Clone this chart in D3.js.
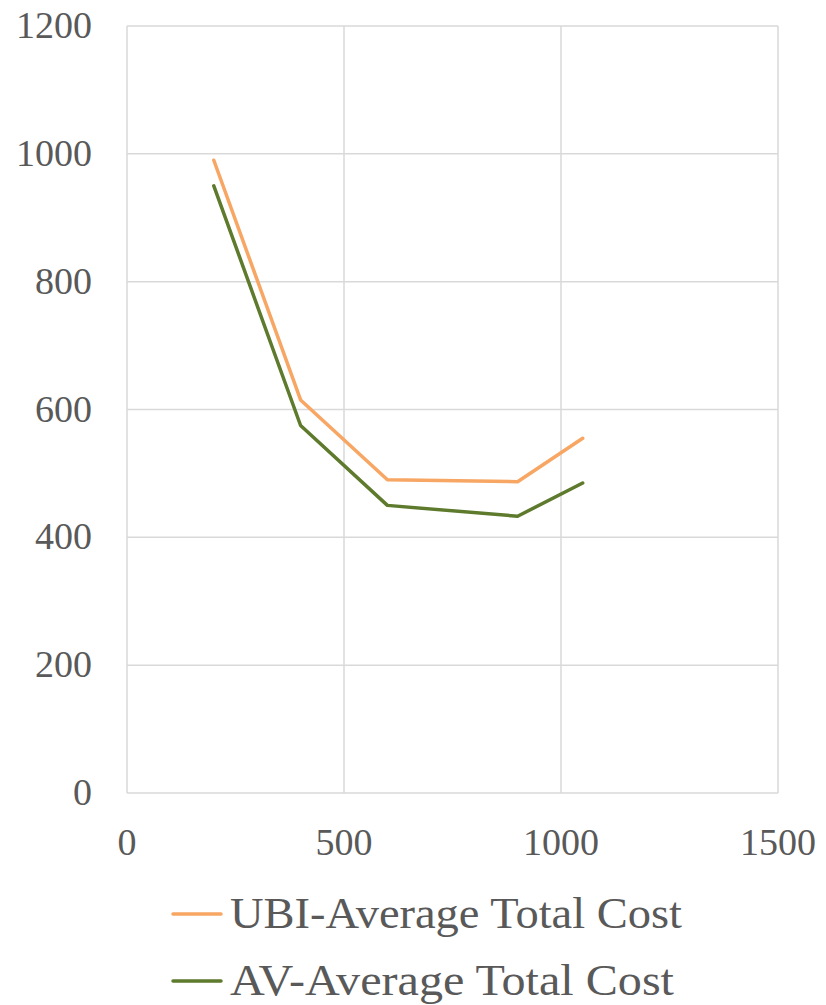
<!DOCTYPE html>
<html><head><meta charset="utf-8">
<script src="https://cdn.jsdelivr.net/npm/d3@7"></script>
<style>body{margin:0;background:#fff}</style>
</head><body>
<svg id="c" width="826" height="1005"></svg>
<script>
const xValues = [200, 400, 600, 900, 1050];
const ubiValues = [990, 615, 490, 487, 555];
const avValues = [950, 575, 450, 433, 485];
const xTicks = [0, 500, 1000, 1500];
const yTicks = [0, 200, 400, 600, 800, 1000, 1200];
const seriesNames = ["UBI-Average Total Cost", "AV-Average Total Cost"];
const seriesColors = ["#F7A663", "#5E7A2C"];

const svg = d3.select("#c");
const font = "'Liberation Serif', 'Times New Roman', serif";
const x = d3.scaleLinear().domain([0, 1500]).range([127, 778]);
const y = d3.scaleLinear().domain([0, 1200]).range([793, 26]);
const grid = "#d9d9d9", txt = "#595959";

// gridlines
svg.append("g").selectAll("line").data(yTicks.slice(1)).join("line")
  .attr("x1", x(0)).attr("x2", x(1500)).attr("y1", d => y(d)).attr("y2", d => y(d))
  .attr("stroke", grid).attr("stroke-width", 1.5);
svg.append("g").selectAll("line").data(xTicks.slice(1)).join("line")
  .attr("y1", y(0)).attr("y2", y(1200)).attr("x1", d => x(d)).attr("x2", d => x(d))
  .attr("stroke", grid).attr("stroke-width", 1.5);
// axes
svg.append("line").attr("x1", x(0)).attr("x2", x(0)).attr("y1", y(0)).attr("y2", y(1200))
  .attr("stroke", grid).attr("stroke-width", 1.5);
svg.append("line").attr("x1", x(0)).attr("x2", x(1500)).attr("y1", y(0)).attr("y2", y(0))
  .attr("stroke", grid).attr("stroke-width", 1.5);

// tick labels
svg.append("g").selectAll("text").data(yTicks).join("text")
  .attr("x", 92).attr("y", d => y(d) + 12).attr("text-anchor", "end")
  .attr("font-family", font).attr("font-size", 38).attr("fill", txt).text(d => d);
svg.append("g").selectAll("text").data(xTicks).join("text")
  .attr("x", d => x(d)).attr("y", 855).attr("text-anchor", "middle")
  .attr("font-family", font).attr("font-size", 38).attr("fill", txt).text(d => d);

// lines
const line = d3.line().x((d, i) => x(xValues[i])).y(d => y(d));
[ubiValues, avValues].forEach((vals, k) => {
  svg.append("path").datum(vals).attr("d", line).attr("fill", "none")
    .attr("stroke", seriesColors[k]).attr("stroke-width", 3.5)
    .attr("stroke-linejoin", "round").attr("stroke-linecap", "round");
});

// legend
const ly = [914, 981];
const lw = [452, 444];
seriesNames.forEach((name, k) => {
  svg.append("line").attr("x1", 173).attr("x2", 221).attr("y1", ly[k]).attr("y2", ly[k])
    .attr("stroke", seriesColors[k]).attr("stroke-width", 3.5).attr("stroke-linecap", "round");
  svg.append("text").attr("x", 230).attr("y", ly[k] + 14)
    .attr("font-family", font).attr("font-size", 44).attr("fill", txt)
    .attr("textLength", lw[k]).attr("lengthAdjust", "spacingAndGlyphs").text(name);
});
</script>
</body></html>
